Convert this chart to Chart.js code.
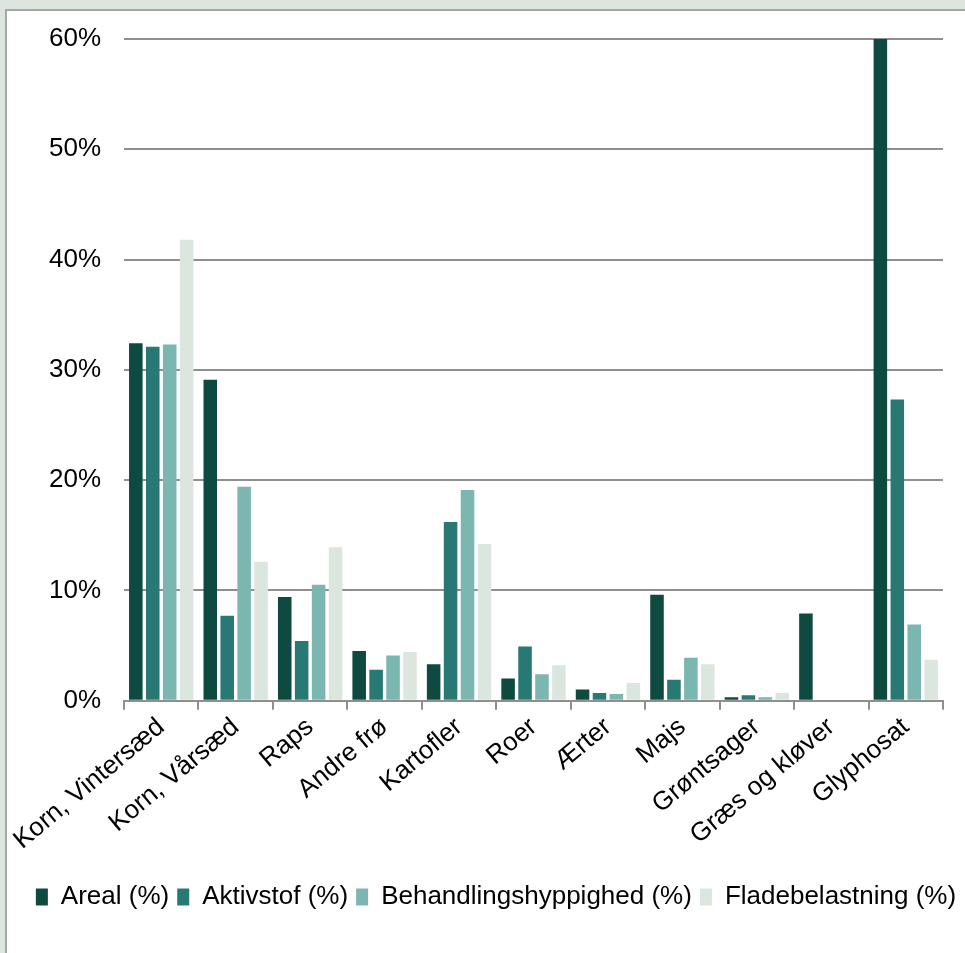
<!DOCTYPE html>
<html>
<head>
<meta charset="utf-8">
<script src="https://cdn.jsdelivr.net/npm/chart.js@4"></script>
<style>
  html, body { margin: 0; padding: 0; }
  body { width: 965px; height: 953px; background: #dce6df; position: relative; overflow: hidden; }
  #panel {
    position: absolute; left: 5px; top: 9px; right: 0; bottom: 0;
    background: #ffffff; border-left: 2px solid #a3a8a4; border-top: 2px solid #a3a8a4;
  }
  #wrap { position: absolute; left: 0; top: 0; width: 958px; height: 942px; }
</style>
</head>
<body>
<div id="panel"><div id="wrap"><canvas id="c"></canvas></div></div>
<script>
// Crop groups along the x axis
const categories = [
  'Korn, Vintersæd', 'Korn, Vårsæd', 'Raps', 'Andre frø', 'Kartofler',
  'Roer', 'Ærter', 'Majs', 'Grøntsager', 'Græs og kløver', 'Glyphosat'
];

// Share per crop group, in percent
const areal           = [32.4, 29.1,  9.4, 4.5,  3.3, 2.0, 1.0, 9.6, 0.3, 7.9, 60.0];
const aktivstof       = [32.1,  7.7,  5.4, 2.8, 16.2, 4.9, 0.7, 1.9, 0.5, 0.0, 27.3];
const behandling      = [32.3, 19.4, 10.5, 4.1, 19.1, 2.4, 0.6, 3.9, 0.3, 0.0,  6.9];
const fladebelastning = [41.8, 12.6, 13.9, 4.4, 14.2, 3.2, 1.6, 3.3, 0.7, 0.0,  3.7];

const seriesNames = ['Areal (%)', 'Aktivstof (%)', 'Behandlingshyppighed (%)', 'Fladebelastning (%)'];
const seriesColors = ['#0f4a40', '#287873', '#7bb6b0', '#dbe6df'];
const seriesValues = [areal, aktivstof, behandling, fladebelastning];

// Y axis: 0 % to 60 % in steps of 10
const yMax = 60;
const yStep = 10;

const FONT = "'Liberation Sans', Arial, sans-serif";
const GRID = '#8f8f8f';

new Chart(document.getElementById('c'), {
  type: 'bar',
  data: {
    labels: categories,
    datasets: seriesValues.map((vals, i) => ({
      label: seriesNames[i],
      data: vals,
      backgroundColor: seriesColors[i],
      borderWidth: 0,
      categoryPercentage: 0.91,
      barPercentage: 0.8
    }))
  },
  options: {
    responsive: true,
    maintainAspectRatio: false,
    animation: false,
    layout: { padding: { left: 20, right: 0, top: 28, bottom: 33 } },
    plugins: {
      tooltip: { enabled: false },
      legend: {
        position: 'bottom',
        labels: {
          color: '#000',
          font: { family: FONT, size: 26 },
          boxWidth: 12,
          boxHeight: 17,
          padding: 8
        }
      }
    },
    scales: {
      x: {
        offset: true,
        grid: {
          display: true,
          drawOnChartArea: false,
          drawTicks: true,
          tickLength: 9,
          color: GRID,
          lineWidth: 2,
          offset: true
        },
        border: { display: true, color: GRID, width: 2 },
        ticks: {
          color: '#000',
          font: { family: FONT, size: 26 },
          maxRotation: 40,
          minRotation: 40,
          autoSkip: false,
          padding: 2
        },
        // leave some air between the crop names and the legend
        afterFit: scale => { scale.height += 18; }
      },
      y: {
        position: 'left',
        min: 0,
        max: yMax,
        grid: { color: GRID, lineWidth: 2, drawTicks: false },
        border: { display: false },
        ticks: {
          stepSize: yStep,
          color: '#000',
          font: { family: FONT, size: 26 },
          padding: 23,
          callback: v => v + '%'
        },
        afterFit: scale => {
          scale.width = 97;
          scale.paddingTop = 0;
          scale.paddingBottom = 0;
        }
      },
      // empty right-hand margin of the plot
      yRight: {
        position: 'right',
        display: true,
        min: 0,
        max: yMax,
        grid: { display: false, drawTicks: false },
        border: { display: false },
        ticks: { display: false },
        afterFit: scale => { scale.width = 22; }
      }
    }
  }
});
</script>
</body>
</html>
